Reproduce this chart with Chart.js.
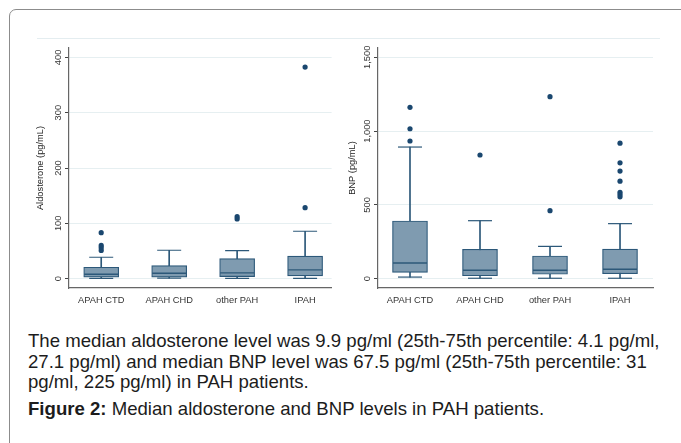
<!DOCTYPE html>
<html>
<head>
<meta charset="utf-8">
<script src="https://cdn.jsdelivr.net/npm/chart.js@4.4.1/dist/chart.umd.min.js"></script>
<style>
    body { margin: 0; background: #fff; width: 681px; height: 443px; overflow: hidden; position: relative; font-family: "Liberation Sans", Arial, sans-serif; }
    #card { position: absolute; left: 9px; top: 9px; width: 900px; height: 600px; border: 1px solid #8c8c8c; border-radius: 7px; }
    #region { position: absolute; left: 37px; top: 38px; width: 623px; border-top: 1px solid #e4edf0; }
    canvas { position: absolute; top: 0; }
    #aldoChart { left: 0; }
    #bnpChart { left: 340px; }
    #caption { position: absolute; left: 28px; top: 331px; font-size: 18.6px; line-height: 20.5px; color: #1c1c1c; margin: 0; }
    #figure { position: absolute; left: 28px; top: 399px; font-size: 18.6px; line-height: 20.5px; color: #1c1c1c; margin: 0; }
</style>
</head>
<body>
<div id="card"></div>
<div id="region"></div>
<canvas id="aldoChart" width="350" height="310"></canvas>
<canvas id="bnpChart" width="341" height="310"></canvas>
<p id="caption">The median aldosterone level was 9.9 pg/ml (25th-75th percentile: 4.1 pg/ml,<br>27.1 pg/ml) and median BNP level was 67.5 pg/ml (25th-75th percentile: 31<br>pg/ml, 225 pg/ml) in PAH patients.</p>
<p id="figure"><b>Figure 2:</b> Median aldosterone and BNP levels in PAH patients.</p>

<script>
const categories = ['APAH CTD', 'APAH CHD', 'other PAH', 'IPAH'];

// aldosterone (pg/mL)
const aldoLow = [0.5, 1, 0.5, 0.5];
const aldoQ1 = [2.5, 2.5, 3.6, 4.9];
const aldoMedian = [7.9, 9.7, 10.3, 15.7];
const aldoQ3 = [20.6, 23.5, 36.2, 40.5];
const aldoHigh = [38.6, 51.3, 50.6, 85.6];
const aldoOutliers = [[83, 60, 56, 51], [], [112, 108], [382.5, 128.3]];
const aldoTicks = [0, 100, 200, 300, 400];
const aldoTickLabels = ['0', '100', '200', '300', '400'];

// BNP (pg/mL)
const bnpLow = [11, 3, 3, 3];
const bnpQ1 = [43, 20, 30, 34];
const bnpMedian = [106, 57, 57, 64];
const bnpQ3 = [391, 199, 154, 201];
const bnpHigh = [892, 393, 219, 373];
const bnpOutliers = [[1161, 1016, 933], [838], [1233, 461], [918, 785, 729, 661, 585, 570, 555]];
const bnpTicks = [0, 500, 1000, 1500];
const bnpTickLabels = ['0', '500', '1,000', '1,500'];

const FONT = '"Liberation Sans", Arial, sans-serif';
const NAVY = '#1a476f';
const BOX_LINE = '#2c5879';
const BOX_FILL = '#7f9bb0';

// Stata style vertical tick labels on the y axis
const yTickLabels = {
    id: 'yTickLabels',
    afterDraw(chart) {
        const { ctx, chartArea, scales: { y } } = chart;
        ctx.save();
        ctx.font = '9.3px ' + FONT;
        ctx.fillStyle = '#333';
        ctx.textAlign = 'center';
        ctx.textBaseline = 'middle';
        y.ticks.forEach(t => {
            ctx.save();
            ctx.translate(chartArea.left - 11, y.getPixelForValue(t.value));
            ctx.rotate(-Math.PI / 2);
            ctx.fillText(t.label, 0, 0);
            ctx.restore();
        });
        ctx.restore();
    }
};

function boxChart(canvas, cfg) {
    const idx = categories.map((c, i) => i + 1);
    const outlierPoints = [];
    cfg.outliers.forEach((list, i) => list.forEach(v => outlierPoints.push({ x: i + 1, y: v })));
    const caps = [];
    idx.forEach((x, i) => {
        caps.push({ x: x, y: cfg.low[i] });
        caps.push({ x: x, y: cfg.high[i] });
    });

    return new Chart(canvas, {
        type: 'bar',
        data: {
            datasets: [{
                label: 'whisker',
                data: idx.map((x, i) => ({ x: x, y: [cfg.low[i], cfg.high[i]] })),
                backgroundColor: BOX_LINE,
                barThickness: 1,
                grouped: false,
                order: 4
            }, {
                label: 'box',
                data: idx.map((x, i) => ({ x: x, y: [cfg.q1[i], cfg.q3[i]] })),
                backgroundColor: BOX_FILL,
                borderColor: BOX_LINE,
                borderWidth: 1.2,
                borderSkipped: false,
                barThickness: 35,
                grouped: false,
                order: 3
            }, {
                type: 'scatter',
                label: 'median',
                data: idx.map((x, i) => ({ x: x, y: cfg.median[i] })),
                pointStyle: 'line',
                pointRadius: 17,
                borderColor: BOX_LINE,
                borderWidth: 1.4,
                order: 2
            }, {
                type: 'scatter',
                label: 'caps',
                data: caps,
                pointStyle: 'line',
                pointRadius: 12,
                borderColor: BOX_LINE,
                borderWidth: 1.2,
                order: 1
            }, {
                type: 'scatter',
                label: 'outliers',
                data: outlierPoints,
                pointStyle: 'circle',
                pointRadius: 2.6,
                backgroundColor: NAVY,
                borderWidth: 0,
                order: 0
            }]
        },
        options: {
            responsive: false,
            animation: false,
            layout: { padding: { left: 0, right: cfg.padRight, top: 48, bottom: 0 } },
            plugins: { legend: { display: false }, tooltip: { enabled: false } },
            scales: {
                x: {
                    type: 'linear',
                    offset: false,
                    min: cfg.xMin,
                    max: cfg.xMax,
                    afterBuildTicks: s => { s.ticks = idx.map(v => ({ value: v })); },
                    afterFit: s => { s.height = 22; },
                    grid: { display: false },
                    border: { display: true, color: '#666', width: 1.2 },
                    ticks: {
                        autoSkip: false,
                        maxRotation: 0,
                        padding: -1,
                        color: '#333',
                        font: { family: FONT, size: 9.3 },
                        callback: (v, i) => categories[i]
                    }
                },
                y: {
                    min: cfg.yMin,
                    max: cfg.yMax,
                    afterBuildTicks: s => { s.ticks = cfg.ticks.map(v => ({ value: v })); },
                    afterFit: s => { s.width = cfg.yWidth; },
                    grid: { color: '#e6eff1', lineWidth: 1, drawTicks: true, tickLength: 4, tickColor: '#444' },
                    border: { display: true, color: '#666', width: 1.2 },
                    ticks: {
                        display: false,
                        callback: (v, i) => cfg.tickLabels[i]
                    },
                    title: {
                        display: true,
                        text: cfg.title,
                        color: '#222',
                        font: { family: FONT, size: 9.3 },
                        padding: { top: cfg.titlePad, bottom: 0 }
                    }
                }
            }
        },
        plugins: [yTickLabels]
    });
}

boxChart(document.getElementById('aldoChart'), {
    low: aldoLow, q1: aldoQ1, median: aldoMedian, q3: aldoQ3, high: aldoHigh, outliers: aldoOutliers,
    ticks: aldoTicks, tickLabels: aldoTickLabels, title: 'Aldosterone (pg/mL)',
    yMin: -17, yMax: 417, xMin: 0.526, xMax: 4.39, yWidth: 69, padRight: 4, titlePad: 34.4
});

boxChart(document.getElementById('bnpChart'), {
    low: bnpLow, q1: bnpQ1, median: bnpMedian, q3: bnpQ3, high: bnpHigh, outliers: bnpOutliers,
    ticks: bnpTicks, tickLabels: bnpTickLabels, title: 'BNP (pg/mL)',
    yMin: -63, yMax: 1563, xMin: 0.543, xMax: 4.471, yWidth: 38, padRight: 28, titlePad: 6.4
});
</script>
</body>
</html>
